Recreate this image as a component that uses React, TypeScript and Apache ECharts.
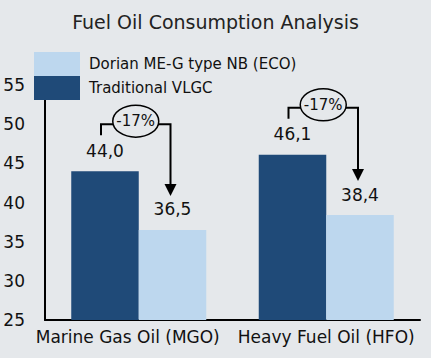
import React, { useEffect, useRef } from "react";
import * as echarts from "echarts";

const categories = ["Marine Gas Oil (MGO)", "Heavy Fuel Oil (HFO)"];
const traditional = [44.0, 46.1];
const dorian = [36.5, 38.4];
const reductions = ["-17%", "-17%"];
const yTicks = { min: 25, max: 55, interval: 5 };

const FONT = "'DejaVu Sans', sans-serif";
const DARK = "#1f4a78";
const LIGHT = "#bdd7ee";
const BG = "#e5e8eb";
const CAT_GAP = 0.28;

export default function App() {
  const ref = useRef<HTMLDivElement>(null);
  useEffect(() => {
    if (!ref.current) return;
    const chart = echarts.init(ref.current, undefined, { renderer: "svg" });
    const fmt = (p: any) => Number(p.value).toFixed(1).replace(".", ",");
    chart.setOption({
      animation: false,
      backgroundColor: BG,
      textStyle: { fontFamily: FONT },
      title: {
        text: "Fuel Oil Consumption Analysis",
        left: "center",
        top: 7,
        textStyle: { fontFamily: FONT, fontSize: 19, fontWeight: "normal", color: "#222" },
      },
      legend: {
        data: ["Dorian ME-G type NB (ECO)", "Traditional VLGC"],
        orient: "vertical",
        left: 29,
        top: 47,
        itemWidth: 46,
        itemHeight: 24,
        itemGap: 0,
        icon: "rect",
        textStyle: { fontFamily: FONT, fontSize: 15, color: "#111", padding: [0, 0, 0, 4] },
      },
      grid: { left: 45, right: 11, top: 85, bottom: 38, containLabel: false },
      xAxis: {
        type: "category",
        data: [
          { value: categories[0], textStyle: { padding: [0, 22, 0, 0] } },
          { value: categories[1] },
        ],
        axisLine: { lineStyle: { color: "#000", width: 2 } },
        axisTick: { show: false },
        axisLabel: { fontFamily: FONT, fontSize: 17, color: "#111", margin: 8, interval: 0 },
      },
      yAxis: {
        type: "value",
        min: yTicks.min,
        max: yTicks.max,
        interval: yTicks.interval,
        axisLine: { show: true, lineStyle: { color: "#000", width: 2 } },
        axisTick: { show: false },
        splitLine: { show: false },
        axisLabel: { fontFamily: FONT, fontSize: 17, color: "#111", margin: 20 },
      },
      series: [
        {
          name: "Traditional VLGC",
          type: "bar",
          data: traditional,
          barGap: "0%",
          barCategoryGap: CAT_GAP * 100 + "%",
          itemStyle: { color: DARK },
          label: { show: true, position: "top", distance: 12, fontFamily: FONT, fontSize: 17, color: "#111", formatter: fmt },
        },
        {
          name: "Dorian ME-G type NB (ECO)",
          type: "bar",
          data: dorian,
          barGap: "0%",
          barCategoryGap: CAT_GAP * 100 + "%",
          itemStyle: { color: LIGHT },
          label: { show: true, position: "top", distance: 12, fontFamily: FONT, fontSize: 17, color: "#111", formatter: fmt },
        },
        {
          type: "custom",
          name: "annot",
          silent: true,
          z: 5,
          data: categories.map((_, i) => [i, traditional[i], dorian[i]]),
          renderItem: (params: any, api: any) => {
            const ci = api.value(0);
            const dTop = api.coord([ci, api.value(1)]);
            const lTop = api.coord([ci, api.value(2)]);
            const bw = api.size([1, 0])[0];
            const barW = (bw * (1 - CAT_GAP)) / 2;
            const darkX = dTop[0] - barW / 2;
            const lightX = dTop[0] + barW / 2;
            const lineY = dTop[1] - 47;
            const leftX = darkX - 4;
            const rightX = lightX - 2;
            const leftBottom = dTop[1] - 36;
            const tip = lTop[1] - 34;
            const cx = (leftX + rightX) / 2;
            const rx = 23;
            const ry = 16;
            const cy = lineY - 3;
            const stroke = { stroke: "#000", lineWidth: 2, fill: null };
            return {
              type: "group",
              children: [
                { type: "polyline", shape: { points: [[leftX, leftBottom], [leftX, lineY], [cx - rx + 1, lineY]] }, style: stroke },
                { type: "polyline", shape: { points: [[cx + rx - 1, lineY], [rightX, lineY], [rightX, tip - 11]] }, style: stroke },
                { type: "polygon", shape: { points: [[rightX - 6, tip - 12], [rightX + 6, tip - 12], [rightX, tip]] }, style: { fill: "#000" } },
                { type: "ellipse", shape: { cx, cy, rx, ry }, style: { stroke: "#000", lineWidth: 1.5, fill: BG } },
                {
                  type: "text",
                  style: {
                    text: reductions[params.dataIndex],
                    x: cx,
                    y: cy,
                    align: "center",
                    verticalAlign: "middle",
                    fontFamily: FONT,
                    fontSize: 15,
                    fill: "#111",
                  },
                },
              ],
            };
          },
        },
      ],
    });
    return () => chart.dispose();
  }, []);
  return <div ref={ref} style={{ width: 431, height: 358, position: "absolute", left: 0, top: 0 }} />;
}
